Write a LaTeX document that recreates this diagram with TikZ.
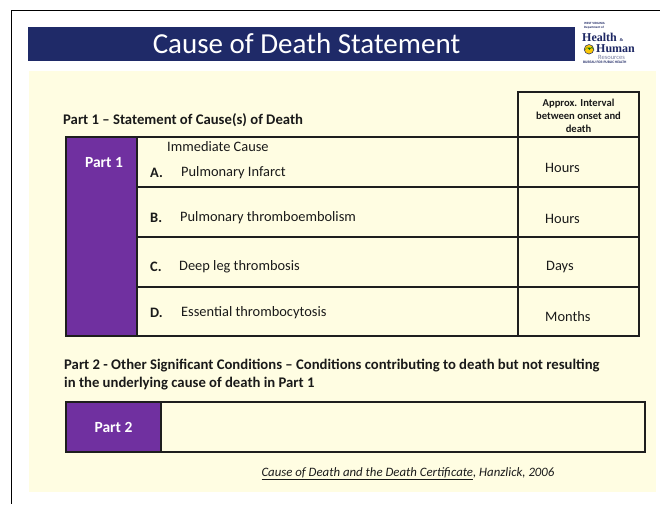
\documentclass[tikz,border=0pt]{standalone}
\usepackage{fontspec}
\setmainfont{Carlito}
\newfontfamily\logofont{Liberation Serif}
\definecolor{banner}{RGB}{31,42,104}
\definecolor{cream}{RGB}{255,253,226}
\definecolor{purp}{RGB}{112,48,160}
\definecolor{textc}{RGB}{26,26,26}
\definecolor{linec}{RGB}{30,30,30}
\definecolor{logoblue}{RGB}{30,40,100}
\begin{document}
\begin{tikzpicture}[x=1pt,y=-1pt,
  txt/.style={inner sep=0pt, text=textc, font=\fontsize{14.4}{17}\selectfont},
  boldtxt/.style={inner sep=0pt, text=textc, font=\fontsize{14.4}{17}\selectfont\bfseries},
  headtxt/.style={inner sep=0pt, text=textc, font=\fontsize{14.7}{17}\selectfont\bfseries},
  parttxt/.style={inner sep=0pt, text=white, font=\fontsize{15.5}{17}\selectfont\bfseries},
  hdrtxt/.style={inner sep=0pt, text=textc, align=center, font=\fontsize{10.6}{13}\selectfont\bfseries},
  titletxt/.style={inner sep=0pt, text=white, font=\fontsize{29}{32}\selectfont},
  rule/.style={draw=linec, line width=1.3pt},
  logotxt/.style={inner sep=0pt, text=logoblue, font=\logofont\bfseries\fontsize{12}{12}\selectfont},
  tinytxt/.style={inner sep=0pt, text=logoblue, align=left, font=\fontsize{3.2}{3.6}\selectfont\bfseries},
]
\useasboundingbox (0,0) rectangle (660,504);
\fill[white] (0,0) rectangle (660,504);
% outer frame
\draw[line width=1.6pt] (660,10.5) -- (11.5,10.5) -- (11.5,504);
% banner
\fill[banner] (28,27) rectangle (575,60.5);
\node[titletxt] (title) at (306.5,44) {Cause of Death Statement};
% logo
\node[tinytxt, anchor=north west] (wv) at (584,22.5) {WEST VIRGINIA\\Department of};
\node[logotxt, anchor=west] (health) at (582,37.5) {Health};
\node[inner sep=0pt, text=logoblue, font=\logofont\bfseries\fontsize{4.5}{4.5}\selectfont] (amp) at (621.5,40.3) {\&};
\fill[yellow!60!orange] (589,49.3) circle (4.8);
\fill[green!45!black] (584.4,50.8) -- (587,47.3) -- (589.5,49.8) -- (592,46.8) -- (594.2,50.8) arc (0:-180:4.9 and 3.3) -- cycle;
\draw[logoblue, line width=0.5pt] (589,49.3) circle (4.8);
\node[logotxt, anchor=west] (human) at (596,48.8) {Human};
\node[inner sep=0pt, text=logoblue!60, font=\fontsize{6.5}{7}\selectfont, anchor=west] (res) at (598,57.3) {Resources};
\node[inner sep=0pt, text=logoblue, font=\fontsize{3.6}{4}\selectfont\bfseries, anchor=west] (bph) at (583,62.5) {BUREAU FOR PUBLIC HEALTH};
% cream panel
\fill[cream] (29,71) rectangle (656,492);
% Part 1 heading
\node[headtxt, anchor=west] (h1) at (63,120) {Part 1 – Statement of Cause(s) of Death};
% Part 1 table
\fill[purp] (66,137) rectangle (137,336);
\draw[rule] (66,137) rectangle (639,336);
\draw[rule] (137,137) -- (137,336);
\draw[rule] (518,92) rectangle (639,137);
\draw[rule] (518,137) -- (518,336);
\foreach \yy in {187,237,287} \draw[rule] (137,\yy) -- (639,\yy);
\node[hdrtxt] (hdr) at (578.5,115.5) {Approx. Interval\\between onset and\\death};
\node[parttxt] (p1) at (104,163) {Part 1};
\node[txt, anchor=west] (imm) at (167,147) {Immediate Cause};
\node[boldtxt, anchor=west] (la) at (150,173) {A.};
\node[txt, anchor=west] (ta) at (181,173) {Pulmonary Infarct};
\node[boldtxt, anchor=west] (lb) at (150,218) {B.};
\node[txt, anchor=west] (tb) at (180,218) {Pulmonary thromboembolism};
\node[boldtxt, anchor=west] (lc) at (150,267) {C.};
\node[txt, anchor=west] (tc) at (179,267) {Deep leg thrombosis};
\node[boldtxt, anchor=west] (ld) at (150,313) {D.};
\node[txt, anchor=west] (td) at (181,313) {Essential thrombocytosis};
\node[txt, anchor=west] (ia) at (545,168) {Hours};
\node[txt, anchor=west] (ib) at (545,219) {Hours};
\node[txt, anchor=west] (ic) at (546,267) {Days};
\node[txt, anchor=west] (id) at (545,317) {Months};
% Part 2 heading
\node[headtxt, anchor=west] (h2a) at (64,366) {Part 2 - Other Significant Conditions – Conditions contributing to death but not resulting};
\node[headtxt, anchor=west] (h2b) at (64,384) {in the underlying cause of death in Part 1};
% Part 2 box
\fill[purp] (66,402) rectangle (161,452);
\draw[rule] (66,402) rectangle (645,452);
\draw[rule] (161,402) -- (161,452);
\node[parttxt] (p2) at (113.5,427) {Part 2};
% citation
\node[inner sep=0pt, text=textc, font=\fontsize{12.8}{15}\selectfont\itshape] (cite) at (408,474) {\underline{Cause of Death and the Death Certificate}, Hanzlick, 2006};
\end{tikzpicture}
\end{document}
